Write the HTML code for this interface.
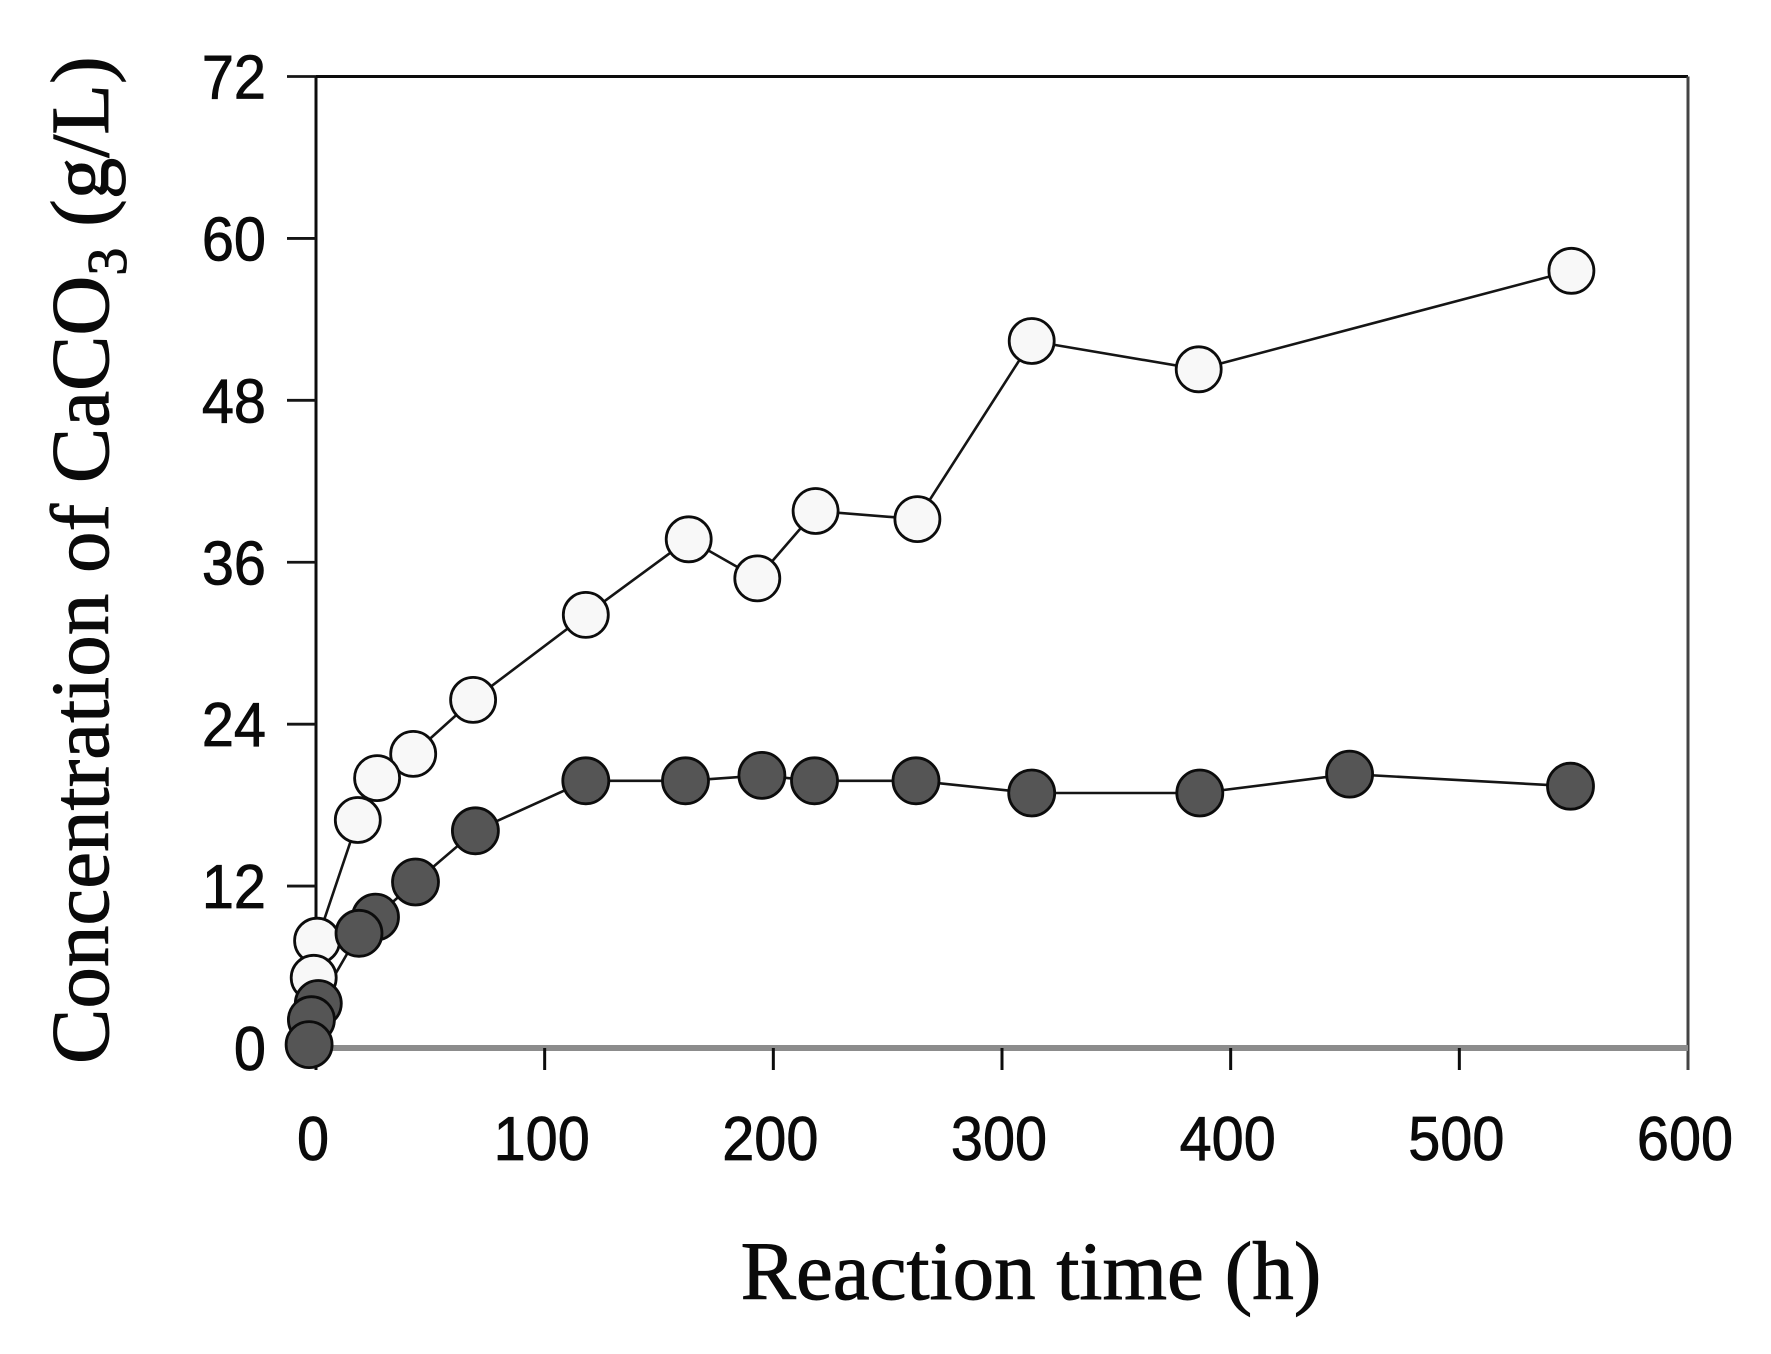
<!DOCTYPE html>
<html lang="en">
<head>
<meta charset="utf-8">
<title>Concentration of CaCO3 vs reaction time</title>
<style>
html,body{margin:0;padding:0;background:#fff;width:1771px;height:1354px;overflow:hidden}
svg{display:block}
.tick-label{font-family:"Liberation Sans",sans-serif;font-size:62px;fill:#0a0a0a;stroke:#0a0a0a;stroke-width:0.8px}
.axis-title{font-family:"Liberation Serif",serif;font-size:83px;fill:#0a0a0a;stroke:#0a0a0a;stroke-width:0.9px}
</style>
</head>
<body>
<svg id="chart" xmlns="http://www.w3.org/2000/svg" width="1771" height="1354" viewBox="0 0 1771 1354">
  <rect x="0" y="0" width="1771" height="1354" fill="#ffffff"/>
  <text class="axis-title" x="1031" y="1299" text-anchor="middle">Reaction time (h)</text>
  <text class="axis-title" transform="translate(108,1064) rotate(-90)">Concentration of CaCO<tspan font-size="56" dy="18">3</tspan><tspan dy="-18"> (g/L)</tspan></text>
</svg>
<script>
const xTicks = [0, 100, 200, 300, 400, 500, 600];
const yTicks = [0, 12, 24, 36, 48, 60, 72];
const openTime = [-1, 0.5, 18.3, 26.7, 42.5, 68.7, 118, 163, 193, 218.5, 263, 313, 386, 549];
const openConc = [5.2, 7.95, 16.9, 20.0, 21.8, 25.8, 32.1, 37.7, 34.8, 39.8, 39.2, 52.4, 50.3, 57.6];
const filledTime = [-3, -2, 1, 18.8, 26, 43.5, 69.7, 118, 161.6, 195, 218, 262.4, 313, 386.5, 452, 548.6];
const filledConc = [0.25, 2.1, 3.3, 8.5, 9.7, 12.3, 16.1, 19.8, 19.8, 20.2, 19.8, 19.8, 18.9, 18.9, 20.3, 19.4];

const NS = 'http://www.w3.org/2000/svg';
const svg = document.getElementById('chart');
const plotLeft = 316, plotRight = 1688, plotTop = 76.5, plotBottom = 1048;
const xMax = 600, yMax = 72;
function sx(v) { return plotLeft + (v / xMax) * (plotRight - plotLeft); }
function sy(v) { return plotBottom - (v / yMax) * (plotBottom - plotTop); }

function lineEl(x1, y1, x2, y2, color, width) {
  const el = document.createElementNS(NS, 'line');
  el.setAttribute('x1', x1);
  el.setAttribute('y1', y1);
  el.setAttribute('x2', x2);
  el.setAttribute('y2', y2);
  el.setAttribute('stroke', color);
  el.setAttribute('stroke-width', width);
  svg.appendChild(el);
  return el;
}
function labelEl(text, x, y, sxScale, anchor) {
  const el = document.createElementNS(NS, 'text');
  el.setAttribute('class', 'tick-label');
  el.setAttribute('text-anchor', anchor);
  el.setAttribute('transform', 'translate(' + x + ',' + y + ') scale(' + sxScale + ',1)');
  el.textContent = text;
  svg.appendChild(el);
  return el;
}

// Axes frame
let frame = lineEl(plotLeft, plotTop, plotRight, plotTop, '#0c0c0c', 3);


frame = lineEl(plotLeft, plotTop, plotLeft, plotBottom, '#0c0c0c', 3);


frame = lineEl(plotRight, plotTop, plotRight, plotBottom + 22, '#444', 3);


frame = lineEl(plotLeft, plotBottom, plotRight, plotBottom, '#8c8c8c', 6);



// Y ticks
yTicks.forEach(function (v) {
  const t = lineEl(287, sy(v), plotLeft, sy(v), '#151515', 2.8);
  
  
  const l = labelEl(String(v), 266, sy(v) + 22, 0.93, 'end');
  
  
});

// X ticks
xTicks.forEach(function (v) {
  if (v !== 600) {
    const t = lineEl(sx(v), plotBottom, sx(v), plotBottom + 22, '#0c0c0c', 3);
    
    
  }
  const l = labelEl(String(v), sx(v) - 3, 1160, 0.93, 'middle');
  
  
});

function pathFor(xs, ys) {
  return xs.map(function (x, i) {
    return (i ? 'L' : 'M') + sx(x).toFixed(1) + ' ' + sy(ys[i]).toFixed(1);
  }).join(' ');
}

function drawLine(xs, ys, name) {
  const p = document.createElementNS(NS, 'path');
  p.setAttribute('d', pathFor(xs, ys));
  p.setAttribute('fill', 'none');
  p.setAttribute('stroke', '#151515');
  p.setAttribute('stroke-width', '2.6');
  
  
  svg.appendChild(p);
}

function drawPoints(xs, ys, fill, radius, name) {
  for (let i = xs.length - 1; i >= 0; i--) {
    const c = document.createElementNS(NS, 'circle');
    c.setAttribute('cx', sx(xs[i]).toFixed(1));
    c.setAttribute('cy', sy(ys[i]).toFixed(1));
    c.setAttribute('r', radius);
    c.setAttribute('fill', fill);
    c.setAttribute('stroke', '#0c0c0c');
    c.setAttribute('stroke-width', '2.8');
    
    
    svg.appendChild(c);
  }
}

drawLine(openTime, openConc, 'open-series-line');
drawLine(filledTime, filledConc, 'filled-series-line');
drawPoints(openTime, openConc, '#f8f8f8', '22.5', 'open-series-point');
drawPoints(filledTime, filledConc, '#555555', '23', 'filled-series-point');
</script>
</body>
</html>
